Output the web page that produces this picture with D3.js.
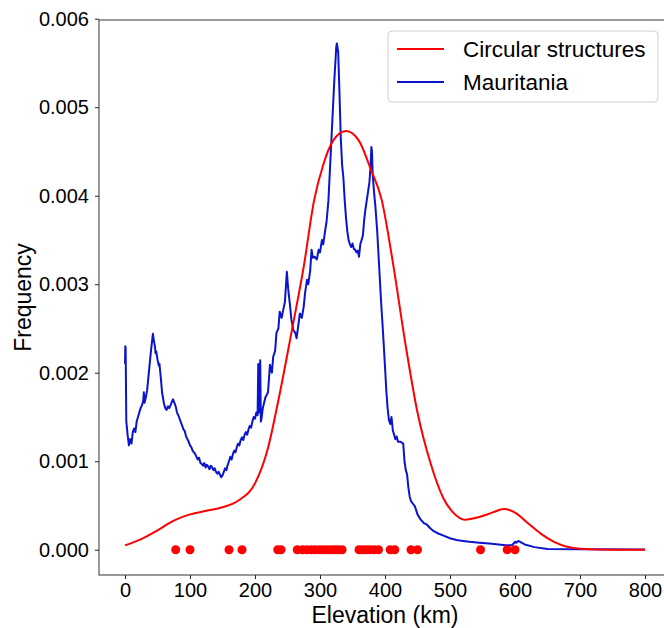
<!DOCTYPE html>
<html>

<head>
  <meta charset="utf-8">
  <title>Elevation frequency</title>
  <style>
    body { margin: 0; background: #fff; }
    text { font-family: "Liberation Sans", Arial, sans-serif; fill: #000; }
  </style>
</head>

<body>
  <svg width="664" height="628"></svg>
  <script src="https://d3js.org/d3.v7.min.js"></script>
  <script>
    // 1. data
    var xTicks = [0, 100, 200, 300, 400, 500, 600, 700, 800];
    var yTicks = [0, 0.001, 0.002, 0.003, 0.004, 0.005, 0.006];
    var seriesNames = ["Circular structures", "Mauritania"];

    // elevations of the circular structures (km)
    var structures = [78, 100, 160, 180, 235, 240, 265, 273, 280, 287, 293, 300, 306, 312, 318,
      323, 328, 334, 360, 365, 371, 377, 383, 390, 408, 415, 440, 450, 547, 588, 600];

    // density of circular structures (x in km, y in 1e-3)
    var circX = [0, 25, 50, 75, 100, 125, 150, 175, 200, 220, 236, 256, 275, 291, 305, 320, 340, 360,
      378, 395, 412, 432, 450, 470, 490, 505, 523, 545, 565, 583, 600, 620, 640, 660, 680, 700, 750, 800];
    var circY = [0.05, 0.12, 0.22, 0.33, 0.40, 0.44, 0.48, 0.56, 0.75, 1.15, 1.69, 2.45, 3.20, 3.95,
      4.35, 4.62, 4.73, 4.62, 4.30, 3.95, 3.25, 2.30, 1.55, 0.98, 0.58, 0.42, 0.34, 0.37, 0.42, 0.46,
      0.42, 0.30, 0.18, 0.09, 0.035, 0.012, 0.0, 0.0];

    // Mauritania elevation distribution (x in km, y in 1e-3)
    var mauX = [0, 0.5, 1, 2, 4, 6, 8, 10, 12, 14, 16, 18, 20, 22, 24, 26, 28, 29, 30, 32, 34, 36, 38, 40,
      42, 43, 44, 46, 47, 48, 50, 52, 53, 55, 57, 60, 62, 64, 66, 68, 70, 72, 74, 76, 78, 80, 82, 84, 86,
      88, 90, 92, 94, 96, 98, 100, 102, 104, 106, 108, 110, 112, 114, 116, 118, 120, 122, 124, 126, 128,
      130, 132, 134, 136, 138, 140, 142, 144, 146, 148, 150, 152, 154, 156, 158, 160, 162, 164, 166, 168,
      170, 172, 174, 176, 178, 180, 182, 184, 186, 188, 190, 192, 194, 196, 198, 200, 202, 204, 205, 206,
      207, 208, 209, 210, 212, 214, 216, 218, 220, 223, 226, 228, 231, 233, 236, 238, 241, 244, 246, 249,
      251, 254, 256, 259, 262, 264, 266, 269, 272, 275, 277, 280, 282, 285, 287, 289, 292, 295, 298, 300,
      303, 305, 308, 310, 313, 316, 318, 320, 322, 324, 325, 326, 328, 330, 332, 334, 336, 338, 340, 342,
      344, 346, 348, 350, 352, 354, 356, 358, 360, 362, 364, 366, 368, 370, 372, 374, 376, 378, 379, 380,
      381, 383, 385, 388, 391, 394, 397, 400, 402, 404, 406, 408, 410, 412, 414, 416, 418, 420, 424, 428,
      430, 432, 434, 436, 438, 440, 443, 446, 450, 455, 460, 465, 470, 475, 480, 490, 500, 510, 520, 530,
      545, 560, 575, 585, 595, 598, 600, 602, 605, 615, 630, 650, 700, 800];
    var mauY = [2.10, 2.30, 2.28, 1.45, 1.30, 1.18, 1.25, 1.20, 1.33, 1.37, 1.33, 1.45, 1.50, 1.55, 1.60,
      1.63, 1.68, 1.78, 1.66, 1.72, 1.80, 1.95, 2.10, 2.25, 2.38, 2.44, 2.38, 2.30, 2.22, 2.24, 2.15, 2.08,
      2.10, 1.95, 1.78, 1.65, 1.60, 1.58, 1.62, 1.60, 1.63, 1.67, 1.70, 1.66, 1.62, 1.55, 1.52, 1.48, 1.44,
      1.40, 1.36, 1.34, 1.28, 1.25, 1.22, 1.18, 1.16, 1.12, 1.10, 1.08, 1.05, 1.02, 1.04, 0.98, 0.97, 0.95,
      0.98, 0.93, 0.96, 0.94, 0.91, 0.95, 0.93, 0.90, 0.92, 0.88, 0.86, 0.88, 0.85, 0.82, 0.84, 0.88, 0.92,
      0.90, 0.96, 1.00, 1.05, 1.02, 1.08, 1.12, 1.10, 1.16, 1.20, 1.18, 1.24, 1.27, 1.24, 1.30, 1.33, 1.30,
      1.36, 1.40, 1.38, 1.45, 1.50, 1.48, 1.55, 1.52, 2.10, 1.55, 1.60, 2.14, 1.45, 1.48, 1.60, 1.66, 1.72,
      1.75, 1.78, 2.09, 2.00, 2.18, 2.25, 2.45, 2.50, 2.69, 2.62, 2.73, 2.80, 3.14, 2.95, 2.75, 2.60, 2.48,
      2.45, 2.39, 2.50, 2.67, 2.62, 2.75, 2.90, 3.05, 3.00, 3.16, 3.39, 3.30, 3.31, 3.28, 3.39, 3.36, 3.50,
      3.45, 3.61, 3.70, 3.95, 4.40, 4.70, 5.00, 5.30, 5.55, 5.68, 5.72, 5.62, 5.15, 4.65, 4.35, 4.20, 3.95,
      3.75, 3.60, 3.50, 3.45, 3.42, 3.46, 3.40, 3.39, 3.36, 3.38, 3.31, 3.45, 3.50, 3.55, 3.73, 3.85, 3.95,
      4.05, 4.15, 4.35, 4.55, 4.50, 4.25, 4.05, 3.90, 3.60, 3.20, 2.80, 2.45, 2.07, 1.80, 1.60, 1.47, 1.42,
      1.50, 1.35, 1.30, 1.25, 1.28, 1.22, 1.22, 1.20, 1.00, 0.90, 0.85, 0.70, 0.60, 0.55, 0.52, 0.49, 0.40,
      0.34, 0.30, 0.28, 0.24, 0.21, 0.19, 0.16, 0.13, 0.11, 0.10, 0.09, 0.08, 0.07, 0.06, 0.05, 0.05, 0.07,
      0.09, 0.08, 0.10, 0.06, 0.03, 0.01, 0.005, 0.002, 0.0];

    // 2. scales
    var svg = d3.select("svg");
    var x = d3.scaleLinear().domain([-40, 840]).range([99, 671]);
    var y = d3.scaleLinear().domain([-0.000285, 0.005985]).range([575, 20]);

    var circData = circX.map(function (d, i) { return [d, circY[i] / 1000]; });
    var mauData = mauX.map(function (d, i) { return [d, mauY[i] / 1000]; });

    // 3. axes
    var xAxis = svg.append("g")
      .attr("transform", "translate(0," + y.range()[0] + ")")
      .call(d3.axisBottom(x).tickValues(xTicks).tickSize(4).tickPadding(4));
    var yAxis = svg.append("g")
      .attr("transform", "translate(" + x.range()[0] + ",0)")
      .call(d3.axisLeft(y).tickValues(yTicks).tickFormat(d3.format(".3f")).tickSize(4).tickPadding(6));
    [xAxis, yAxis].forEach(function (a) {
      a.selectAll("text").style("font-size", "20px").style("font-family", "Liberation Sans, Arial, sans-serif");
      a.select(".domain").remove();
      a.selectAll("line").attr("stroke", "#222");
    });

    // frame
    svg.append("rect")
      .attr("x", x.range()[0]).attr("y", y.range()[1])
      .attr("width", x.range()[1] - x.range()[0])
      .attr("height", y.range()[0] - y.range()[1])
      .attr("fill", "none").attr("stroke", "#333").attr("stroke-width", 1);

    // 4. lines and points
    var line = d3.line()
      .x(function (d) { return x(d[0]); })
      .y(function (d) { return y(d[1]); });

    svg.append("path")
      .datum(mauData)
      .attr("d", line)
      .attr("fill", "none")
      .attr("stroke", "#0a14cc")
      .attr("stroke-width", 2)
      .attr("stroke-linejoin", "round");

    svg.append("path")
      .datum(circData)
      .attr("d", line.curve(d3.curveMonotoneX))
      .attr("fill", "none")
      .attr("stroke", "#ff0000")
      .attr("stroke-width", 2);

    svg.append("g")
      .selectAll("circle")
      .data(structures)
      .enter()
      .append("circle")
      .attr("cx", function (d) { return x(d); })
      .attr("cy", y(0))
      .attr("r", 4.5)
      .attr("fill", "#ff0000");

    // 5. labels
    svg.append("text")
      .attr("x", (x.range()[0] + x.range()[1]) / 2)
      .attr("y", 623)
      .attr("text-anchor", "middle")
      .style("font-size", "23px")
      .text("Elevation (km)");

    svg.append("text")
      .attr("transform", "translate(31," + (y.range()[0] + y.range()[1]) / 2 + ") rotate(-90)")
      .attr("text-anchor", "middle")
      .style("font-size", "23px")
      .text("Frequency");

    // 6. legend
    var legend = svg.append("g").attr("transform", "translate(388,31)");
    legend.append("rect")
      .attr("width", 270).attr("height", 71).attr("rx", 4)
      .attr("fill", "#fff").attr("fill-opacity", 0.8)
      .attr("stroke", "#d0d0d0");
    var legendColors = ["#ff0000", "#0a14cc"];
    seriesNames.forEach(function (name, i) {
      legend.append("line")
        .attr("x1", 9).attr("x2", 56)
        .attr("y1", 18 + i * 33).attr("y2", 18 + i * 33)
        .attr("stroke", legendColors[i]).attr("stroke-width", 2);
      legend.append("text")
        .attr("x", 75).attr("y", 26 + i * 33)
        .style("font-size", "22.5px")
        .text(name);
    });
  </script>
</body>

</html>
